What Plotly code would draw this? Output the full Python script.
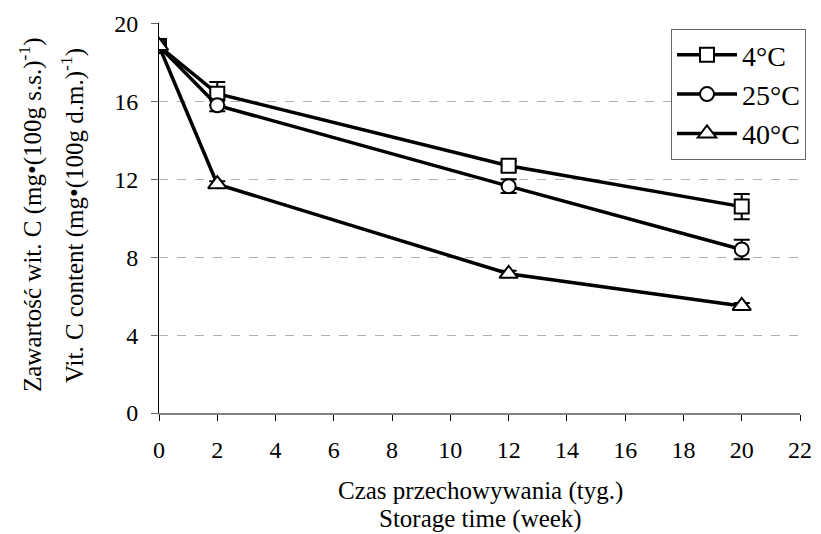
import plotly.graph_objects as go

weeks = [0, 2, 12, 20]
series_names = ["4°C", "25°C", "40°C"]
vals_4 = [18.85, 16.4, 12.7, 10.6]
vals_25 = [18.85, 15.8, 11.65, 8.4]
vals_40 = [18.85, 11.75, 7.15, 5.5]
err_4 = [0.25, 0.6, 0.25, 0.65]
err_25 = [0.2, 0.3, 0.35, 0.5]
err_40 = [0.15, 0.15, 0.15, 0.15]
x_ticks = list(range(0, 23, 2))
y_ticks = [0, 4, 8, 12, 16, 20]

FONT = "Liberation Serif, Times New Roman, serif"

# figure is drawn inside the page's 8px body margin
W, H = 805, 526
L, R, T, B = 151, 13, 15, 121
plot_w = W - L - R
plot_h = H - T - B


def px_x(v):
    return (v - L) / plot_w


def px_y(v):
    return (H - B - v) / plot_h


fig = go.Figure()
styles = [("square", 14), ("circle", 14), ("triangle-up", 16)]
for name, vals, err, (sym, sz) in zip(series_names, [vals_4, vals_25, vals_40],
                                       [err_4, err_25, err_40], styles):
    fig.add_trace(go.Scatter(
        x=weeks, y=vals, name=name, mode="lines+markers",
        line=dict(color="black", width=3.5),
        marker=dict(symbol=sym, size=sz, color="white",
                    line=dict(color="black", width=2)),
        error_y=dict(type="data", array=err, visible=True,
                     color="black", thickness=2, width=8),
    ))


def label(text, x, y, angle=0):
    return dict(text=text, x=px_x(x), y=px_y(y), xref="paper", yref="paper",
                xanchor="center", yanchor="middle", showarrow=False,
                textangle=angle, font=dict(size=25, family=FONT))


fig.update_layout(
    width=W, height=H,
    margin=dict(l=L, r=R, t=T, b=B, autoexpand=False),
    plot_bgcolor="white", paper_bgcolor="white",
    font=dict(family=FONT, size=24, color="black"),
    showlegend=True,
    legend=dict(x=px_x(663), y=px_y(21), xanchor="left", yanchor="top",
                bgcolor="white", bordercolor="#666666", borderwidth=1,
                font=dict(size=28, family=FONT), itemwidth=60,
                tracegroupgap=4),
    xaxis=dict(range=[0, 22], tickvals=x_ticks, ticks="outside",
               ticklen=6, tickcolor="black", showgrid=False,
               showline=True, linecolor="#808080", linewidth=2,
               zeroline=False, tickfont=dict(size=24, family=FONT),
               ticklabelstandoff=8, automargin=False),
    yaxis=dict(range=[0, 20.03], tickvals=y_ticks, ticks="outside",
               ticklen=7, tickcolor="#666666", showgrid=True,
               gridcolor="#b0b0b0", griddash="dash", gridwidth=1,
               showline=True, linecolor="black", linewidth=1,
               zeroline=False, tickfont=dict(size=24, family=FONT),
               ticklabelstandoff=8, automargin=False),
    annotations=[
        label("Zawartość wit. C (mg•(100g s.s.)<sup>-1</sup>)", 22, 207, -90),
        label("Vit. C content (mg•(100g d.m.)<sup>-1</sup>)", 64, 207, -90),
        label("Czas przechowywania (tyg.)", 472, 483),
        label("Storage time (week)", 472, 511),
    ],
)

fig.write_html("out.html")
